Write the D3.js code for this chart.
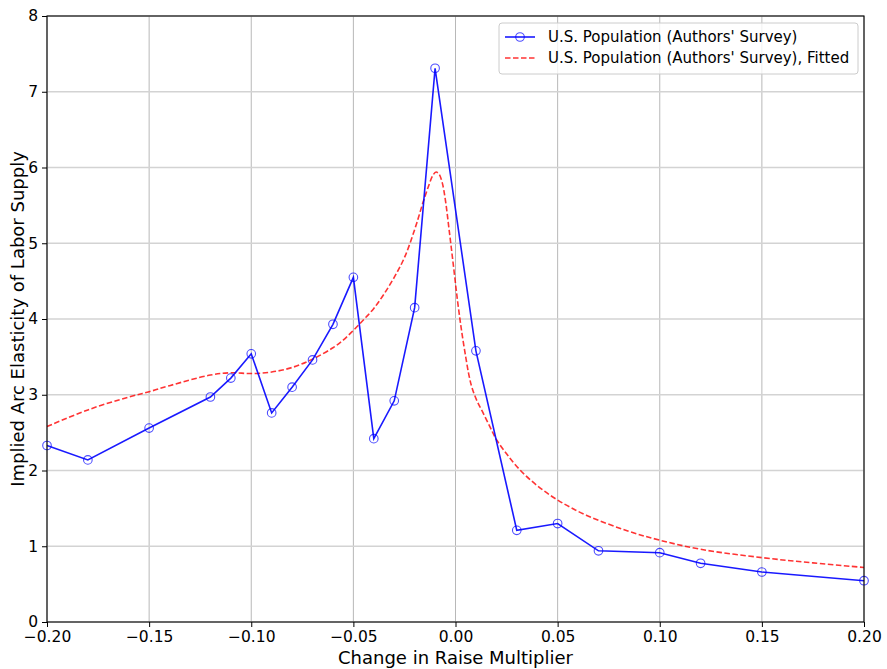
<!DOCTYPE html>
<html>
<head>
<meta charset="utf-8">
<script src="https://cdn.jsdelivr.net/npm/d3@7"></script>
<style>
  html, body { margin: 0; padding: 0; background: #fff; }
  svg { display: block; font-family: "DejaVu Sans", sans-serif; }
</style>
</head>
<body>
<svg id="chart" width="887" height="669"></svg>
<script>
// Survey observations: change in raise multiplier vs implied arc elasticity
const surveyX = [-0.20, -0.18, -0.15, -0.12, -0.11, -0.10, -0.09, -0.08, -0.07, -0.06, -0.05,
                 -0.04, -0.03, -0.02, -0.01, 0.01, 0.03, 0.05, 0.07, 0.10, 0.12, 0.15, 0.20];
const surveyY = [2.33, 2.14, 2.56, 2.97, 3.22, 3.54, 2.76, 3.10, 3.46, 3.93, 4.55,
                 2.42, 2.92, 4.15, 7.31, 3.58, 1.21, 1.30, 0.94, 0.915, 0.775, 0.66, 0.545];

// Fitted curve, sampled
const fitX = [-0.20, -0.18, -0.16, -0.15, -0.14, -0.12, -0.11, -0.10, -0.09, -0.08, -0.07,
              -0.06, -0.055, -0.05, -0.045, -0.04, -0.035, -0.03, -0.025, -0.02, -0.016,
              -0.013, -0.011, -0.0095, -0.008, -0.0065, -0.005, -0.003, -0.001, 0.001,
              0.003, 0.005, 0.0065, 0.008, 0.0105, 0.0135, 0.017, 0.020, 0.025, 0.0315,
              0.040, 0.050, 0.064, 0.084, 0.100, 0.120, 0.150, 0.175, 0.200];
const fitY = [2.58, 2.80, 2.97, 3.04, 3.12, 3.26, 3.29, 3.28, 3.30, 3.36, 3.47,
              3.62, 3.72, 3.85, 3.99, 4.14, 4.33, 4.55, 4.81, 5.18, 5.53,
              5.77, 5.90, 5.94, 5.91, 5.80, 5.58, 5.15, 4.70, 4.24,
              3.84, 3.50, 3.27, 3.10, 2.92, 2.76, 2.57, 2.41, 2.22, 2.01,
              1.80, 1.61, 1.41, 1.205, 1.08, 0.96, 0.85, 0.78, 0.72];

const xTicks = [-0.20, -0.15, -0.10, -0.05, 0.00, 0.05, 0.10, 0.15, 0.20];
const yTicks = [0, 1, 2, 3, 4, 5, 6, 7, 8];

const seriesNames = ["U.S. Population (Authors' Survey)", "U.S. Population (Authors' Survey), Fitted"];
const xLabel = "Change in Raise Multiplier";
const yLabel = "Implied Arc Elasticity of Labor Supply";

const svg = d3.select("#chart");
const plotL = 47, plotR = 864, plotT = 16, plotB = 622;

const x = d3.scaleLinear().domain([-0.20, 0.20]).range([plotL, plotR]);
const y = d3.scaleLinear().domain([0, 8]).range([plotB, plotT]);

// Grid
const grid = svg.append("g");
grid.selectAll("line.v").data(xTicks).join("line")
  .attr("x1", d => x(d)).attr("x2", d => x(d))
  .attr("y1", plotT).attr("y2", plotB)
  .attr("stroke", "#b0b0b0").attr("stroke-width", 0.9);
grid.selectAll("line.h").data(yTicks).join("line")
  .attr("x1", plotL).attr("x2", plotR)
  .attr("y1", d => y(d)).attr("y2", d => y(d))
  .attr("stroke", "#d3d3d3").attr("stroke-width", 1.6);

// Data
const dataPts = surveyX.map((v, i) => [v, surveyY[i]]);
const fitPts = fitX.map((v, i) => [v, fitY[i]]);

svg.append("path")
  .datum(fitPts)
  .attr("fill", "none")
  .attr("stroke", "#ff0000")
  .attr("stroke-opacity", 0.8)
  .attr("stroke-width", 1.6)
  .attr("stroke-dasharray", "5.5,2.5")
  .attr("d", d3.line().x(d => x(d[0])).y(d => y(d[1])).curve(d3.curveCatmullRom.alpha(0.5)));

svg.append("path")
  .datum(dataPts)
  .attr("fill", "none")
  .attr("stroke", "#0000ff")
  .attr("stroke-opacity", 0.9)
  .attr("stroke-width", 1.6)
  .attr("d", d3.line().x(d => x(d[0])).y(d => y(d[1])));

svg.append("g").selectAll("circle").data(dataPts).join("circle")
  .attr("cx", d => x(d[0])).attr("cy", d => y(d[1]))
  .attr("r", 4.3)
  .attr("fill", "none")
  .attr("stroke", "#0000ff")
  .attr("stroke-opacity", 0.7)
  .attr("stroke-width", 1.1);

// Axes
const fmtX = d => (d < 0 ? "\u2212" : "") + Math.abs(d).toFixed(2);
const xAxis = svg.append("g").attr("transform", `translate(0,${plotB})`)
  .call(d3.axisBottom(x).tickValues(xTicks).tickFormat(fmtX).tickSize(5).tickSizeOuter(0));
const yAxis = svg.append("g").attr("transform", `translate(${plotL},0)`)
  .call(d3.axisLeft(y).tickValues(yTicks).tickFormat(d3.format("d")).tickSize(5).tickSizeOuter(0));
[xAxis, yAxis].forEach(a => {
  a.select(".domain").remove();
  a.selectAll(".tick line").attr("stroke", "#000").attr("stroke-width", 1);
  a.selectAll(".tick text").attr("font-size", 15.5).attr("font-family", "DejaVu Sans").attr("fill", "#000");
});
xAxis.selectAll(".tick text").attr("y", 7).attr("dy", "0.85em");
yAxis.selectAll(".tick text").attr("dx", "-0.05em");

// Frame
svg.append("rect")
  .attr("x", plotL).attr("y", plotT)
  .attr("width", plotR - plotL).attr("height", plotB - plotT)
  .attr("fill", "none").attr("stroke", "#000").attr("stroke-width", 1.1);

// Axis titles
svg.append("text")
  .attr("x", (plotL + plotR) / 2).attr("y", 664)
  .attr("text-anchor", "middle").attr("font-size", 18)
  .text(xLabel);
svg.append("text")
  .attr("transform", `translate(24,${(plotT + plotB) / 2}) rotate(-90)`)
  .attr("text-anchor", "middle").attr("font-size", 18)
  .text(yLabel);

// Legend
const lg = svg.append("g");
lg.append("rect")
  .attr("x", 499).attr("y", 23).attr("width", 359).attr("height", 51).attr("rx", 3)
  .attr("fill", "#fff").attr("fill-opacity", 0.8)
  .attr("stroke", "#cccccc").attr("stroke-width", 1);
const rows = [37, 58];
lg.append("line")
  .attr("x1", 505).attr("x2", 535).attr("y1", rows[0]).attr("y2", rows[0])
  .attr("stroke", "#0000ff").attr("stroke-opacity", 0.9).attr("stroke-width", 1.6);
lg.append("circle")
  .attr("cx", 520).attr("cy", rows[0]).attr("r", 4.3)
  .attr("fill", "none").attr("stroke", "#0000ff").attr("stroke-opacity", 0.7).attr("stroke-width", 1.1);
lg.append("line")
  .attr("x1", 505).attr("x2", 535).attr("y1", rows[1]).attr("y2", rows[1])
  .attr("stroke", "#ff0000").attr("stroke-opacity", 0.8).attr("stroke-width", 1.6)
  .attr("stroke-dasharray", "5.5,2.5");
seriesNames.forEach((n, i) => {
  lg.append("text")
    .attr("x", 548).attr("y", rows[i]).attr("dy", "0.35em")
    .attr("font-size", 15).text(n);
});
</script>
</body>
</html>
